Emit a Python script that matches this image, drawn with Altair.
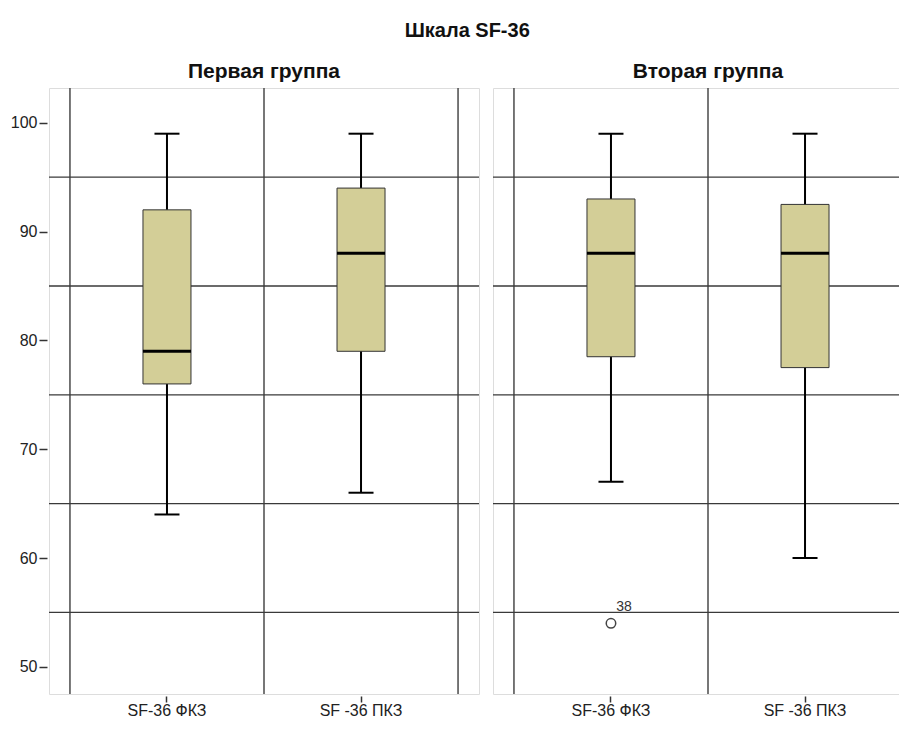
import altair as alt
import pandas as pd

# ---- data ----
panels = ["Первая группа", "Первая группа", "Вторая группа", "Вторая группа"]
cats = ["SF-36 ФКЗ", "SF -36 ПКЗ", "SF-36 ФКЗ", "SF -36 ПКЗ"]
lower = [64, 66, 67, 60]
q1 = [76, 79, 78.5, 77.5]
median = [79, 88, 88, 88]
q3 = [92, 94, 93, 92.5]
upper = [99, 99, 99, 99]

out_panel = ["Вторая группа"]
out_cat = ["SF-36 ФКЗ"]
out_value = [54]
out_label = ["38"]

panel_order = ["Первая группа", "Вторая группа"]
cat_order = ["SF-36 ФКЗ", "SF -36 ПКЗ"]
grid_y = [55, 65, 75, 85, 95]
y_ticks = [50, 60, 70, 80, 90, 100]

box_df = pd.DataFrame({"kind": "box", "panel": panels, "cat": cats, "lower": lower,
                       "q1": q1, "median": median, "q3": q3, "upper": upper})
out_df = pd.DataFrame({"kind": "out", "panel": out_panel, "cat": out_cat,
                       "value": out_value, "label": out_label})
grid_df = pd.DataFrame([{"kind": "hgrid", "panel": p, "g": g} for p in panel_order for g in grid_y])
df = pd.concat([box_df, out_df, grid_df], ignore_index=True)

FONT = "Liberation Sans"
xscale = alt.Scale(domain=cat_order, paddingInner=0, paddingOuter=0.108)
yscale = alt.Scale(domain=[47.5, 103.2], nice=False, zero=False)
xax = alt.Axis(title=None, labelAngle=0, grid=False, ticks=True, tickSize=6,
               tickColor="#333", tickWidth=1.5, domain=False, labelFont=FONT, labelFontSize=16,
               labelColor="#222", labelPadding=0)
yax = alt.Axis(title=None, values=y_ticks, grid=False, tickSize=8, tickColor="#333",
               tickWidth=1.5, domain=False, labelFont=FONT, labelFontSize=16, labelColor="#222",
               labelPadding=2)

base = alt.Chart()
X = lambda **kw: alt.X("cat:N", scale=xscale, axis=xax, **kw)

vgrid0 = base.mark_rule(color="#555", strokeWidth=1.6).encode(
    x=X(bandPosition=0)).transform_filter("datum.kind == 'box'")
vgrid1 = base.mark_rule(color="#555", strokeWidth=1.6).encode(
    x=X(bandPosition=1)).transform_filter(f"datum.kind == 'box' && datum.cat == '{cat_order[-1]}'")
hgrid = base.mark_rule(color="#3a3a3a", strokeWidth=1.3).encode(
    y=alt.Y("g:Q", scale=yscale, axis=yax)).transform_filter("datum.kind == 'hgrid'")

bf = "datum.kind == 'box'"
whisk = base.mark_rule(color="black", strokeWidth=2).encode(
    x=X(), y=alt.Y("lower:Q", scale=yscale, axis=yax), y2="upper:Q").transform_filter(bf)
box = base.mark_bar(size=48, fill="#d3ce97", stroke="#333", strokeWidth=1).encode(
    x=X(), y=alt.Y("q1:Q", scale=yscale, axis=yax), y2="q3:Q").transform_filter(bf)
med = base.mark_tick(size=48, thickness=3, color="black", opacity=1).encode(
    x=X(), y=alt.Y("median:Q", scale=yscale, axis=yax)).transform_filter(bf)
cap_lo = base.mark_tick(size=25, thickness=2, color="black", opacity=1).encode(
    x=X(), y=alt.Y("lower:Q", scale=yscale, axis=yax)).transform_filter(bf)
cap_hi = base.mark_tick(size=25, thickness=2, color="black", opacity=1).encode(
    x=X(), y=alt.Y("upper:Q", scale=yscale, axis=yax)).transform_filter(bf)

of = "datum.kind == 'out'"
outl = base.mark_point(shape="circle", filled=False, size=90, stroke="#444",
                       strokeWidth=1.5, opacity=1).encode(
    x=X(), y=alt.Y("value:Q", scale=yscale, axis=yax)).transform_filter(of)
outt = base.mark_text(dx=13, dy=-16, fontSize=14, font=FONT, color="#333").encode(
    x=X(), y=alt.Y("value:Q", scale=yscale, axis=yax), text="label:N").transform_filter(of)

layer = alt.layer(vgrid0, vgrid1, hgrid, whisk, box, med, cap_lo, cap_hi, outl, outt).properties(
    width=430, height=606)

chart = layer.facet(
    data=df,
    column=alt.Column("panel:N", sort=panel_order, title=None,
                      header=alt.Header(labelFont=FONT, labelFontSize=21, labelFontWeight="bold",
                                        labelColor="#111", labelPadding=4)),
    spacing=10,
).properties(
    title=alt.TitleParams("Шкала SF-36", font=FONT, fontSize=20, fontWeight="bold",
                          color="#111", anchor="middle", offset=20),
    padding={"left": 2, "top": 13, "right": -26, "bottom": -1},
).configure_view(fill="#f0f0f0", stroke="#333", strokeWidth=1.5).configure(background="white")

chart.save("out.html", embed_options={"renderer": "svg", "actions": False})
